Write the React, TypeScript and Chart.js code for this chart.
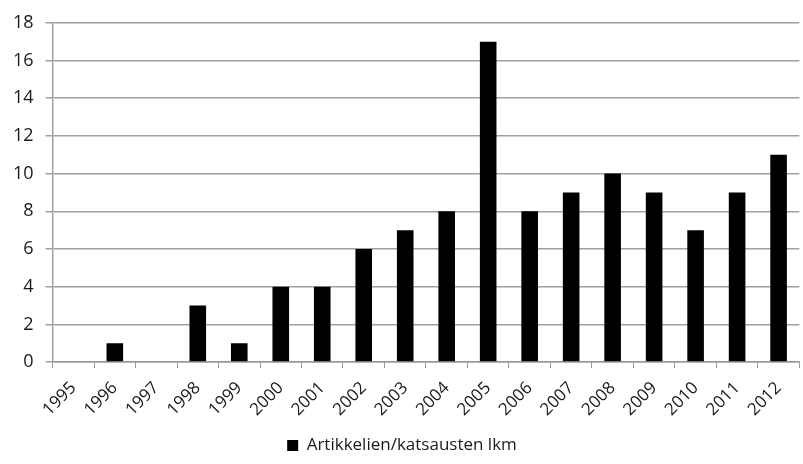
import React, { useEffect, useRef } from "react";
import { Chart, registerables } from "chart.js";

Chart.register(...registerables);

const years = ["1995","1996","1997","1998","1999","2000","2001","2002","2003","2004","2005","2006","2007","2008","2009","2010","2011","2012"];
const counts = [0, 1, 0, 3, 1, 4, 4, 6, 7, 8, 17, 8, 9, 10, 9, 7, 9, 11];
const seriesLabel = "Artikkelien/katsausten lkm";

export default function App() {
  const ref = useRef<HTMLCanvasElement>(null);
  useEffect(() => {
    if (!ref.current) return;
    const font = "'Open Sans', Lato, sans-serif";
    const chart = new Chart(ref.current, {
      type: "bar",
      data: {
        labels: years,
        datasets: [{
          label: seriesLabel,
          data: counts,
          backgroundColor: "#000000",
          borderColor: "#000000",
          barPercentage: 0.4,
          categoryPercentage: 1,
        }],
      },
      options: {
        animation: false,
        responsive: true,
        maintainAspectRatio: false,
        layout: { padding: { left: 1, right: 0, top: 10, bottom: 0 } },
        plugins: {
          tooltip: { enabled: false },
          legend: {
            position: "bottom",
            labels: {
              font: { family: font, size: 17 },
              color: "#1a1a1a",
              boxWidth: 11,
              boxHeight: 11,
              padding: 7,
            },
          },
        },
        scales: {
          x: {
            grid: { display: true, drawOnChartArea: false, drawTicks: true, tickLength: 6, color: "#999", offset: true },
            border: { display: true, color: "#999", width: 1.5 },
            ticks: {
              font: { family: font, size: 17 },
              color: "#1a1a1a",
              minRotation: 45,
              maxRotation: 45,
              padding: 10,
            },
          },
          y: {
            min: 0,
            max: 18,
            ticks: { stepSize: 2, font: { family: font, size: 18 }, color: "#1a1a1a", padding: 12 },
            grid: { color: "#a0a0a0", lineWidth: 1.5, tickLength: 7 },
            border: { display: true, color: "#a0a0a0", width: 1.5 },
          },
        },
      },
    });
    return () => chart.destroy();
  }, []);
  return (
    <div style={{ position: "absolute", left: 0, top: 0, width: 803, height: 464, background: "#fff" }}>
      <canvas ref={ref} />
    </div>
  );
}
